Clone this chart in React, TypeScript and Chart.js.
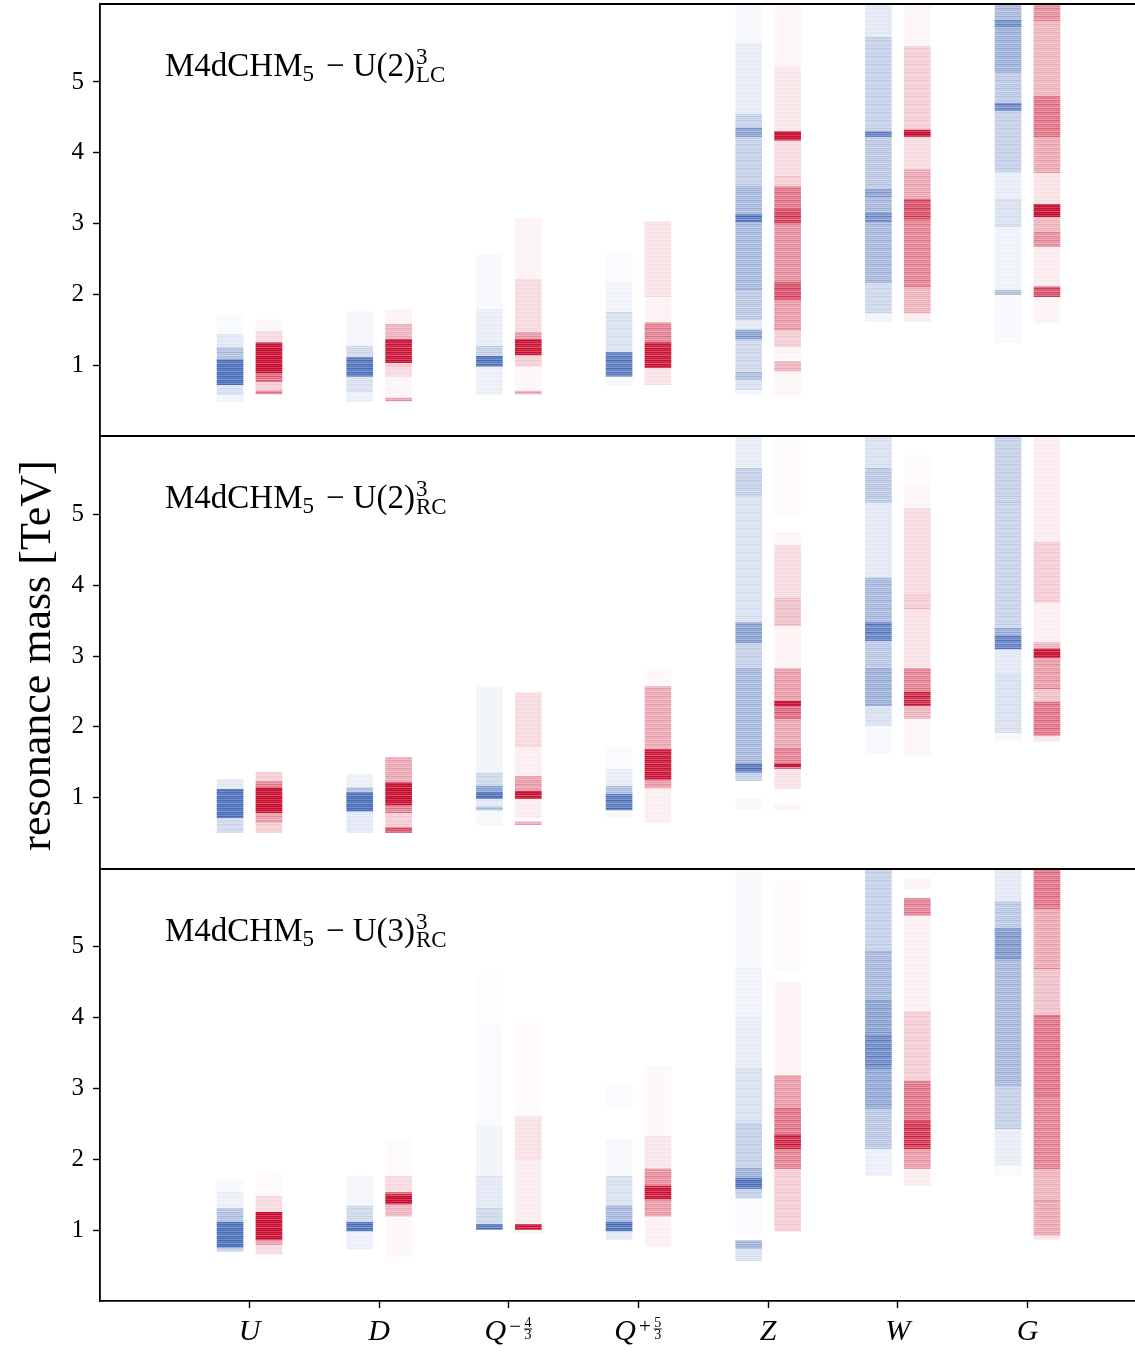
import React, { useEffect, useRef } from 'react';
import { Chart, registerables } from 'chart.js';

Chart.register(...registerables);

// [from TeV, to TeV, density 0..1]
type Band = [number, number, number];

const categories = ['U', 'D', 'Q-4/3', 'Q+5/3', 'Z', 'W', 'G'];
const massTicks = [1, 2, 3, 4, 5];
const massMax = 6.1;

const panelTitles = [
  { group: 'U(2)', sup: '3', sub: 'LC' },
  { group: 'U(2)', sup: '3', sub: 'RC' },
  { group: 'U(3)', sup: '3', sub: 'RC' },
];

// U(2)^3 LC
const lcBlue: Band[][] = [
  [[0.49, 0.59, 0.08], [0.59, 0.73, 0.2], [0.73, 1.08, 0.95], [1.08, 1.25, 0.4], [1.25, 1.44, 0.15], [1.44, 1.72, 0.03]],
  [[0.49, 0.63, 0.1], [0.63, 0.85, 0.2], [0.85, 1.11, 0.9], [1.11, 1.27, 0.25], [1.27, 1.76, 0.06]],
  [[0.59, 0.99, 0.1], [0.99, 1.13, 0.9], [1.13, 1.27, 0.3], [1.27, 1.79, 0.12], [1.79, 2.56, 0.04]],
  [[0.72, 0.85, 0.05], [0.85, 1.18, 0.85], [1.18, 1.75, 0.2], [1.75, 2.17, 0.08], [2.17, 2.59, 0.03]],
  [[0.58, 0.66, 0.05], [0.66, 0.8, 0.2], [0.8, 0.9, 0.4], [0.9, 1.37, 0.25], [1.37, 1.5, 0.6], [1.5, 1.65, 0.15], [1.65, 2.07, 0.35], [2.07, 3.03, 0.45], [3.03, 3.13, 0.85], [3.13, 3.52, 0.45], [3.52, 4.23, 0.3], [4.23, 4.35, 0.6], [4.35, 4.54, 0.3], [4.54, 5.55, 0.12], [5.55, 6.1, 0.05]],
  [[1.62, 1.74, 0.08], [1.74, 2.17, 0.25], [2.17, 3.03, 0.45], [3.03, 3.15, 0.7], [3.15, 3.38, 0.45], [3.38, 3.48, 0.6], [3.48, 4.23, 0.35], [4.23, 4.3, 0.8], [4.3, 5.63, 0.3], [5.63, 6.1, 0.15]],
  [[1.32, 2.0, 0.04], [2.0, 2.06, 0.4], [2.06, 2.96, 0.08], [2.96, 3.34, 0.2], [3.34, 3.73, 0.12], [3.73, 4.6, 0.3], [4.6, 4.7, 0.75], [4.7, 5.14, 0.35], [5.14, 5.78, 0.5], [5.78, 5.87, 0.7], [5.87, 6.1, 0.45]],
];
const lcRed: Band[][] = [
  [[0.6, 0.64, 0.5], [0.64, 0.77, 0.2], [0.77, 0.9, 0.6], [0.9, 1.32, 1.0], [1.32, 1.48, 0.15], [1.48, 1.65, 0.03]],
  [[0.5, 0.54, 0.4], [0.55, 0.85, 0.04], [0.85, 0.99, 0.15], [0.99, 1.04, 0.2], [1.04, 1.37, 0.95], [1.37, 1.58, 0.3], [1.58, 1.79, 0.05]],
  [[0.6, 0.64, 0.35], [0.66, 0.99, 0.03], [0.99, 1.15, 0.2], [1.15, 1.37, 0.95], [1.37, 1.46, 0.4], [1.46, 2.21, 0.15], [2.21, 3.08, 0.05]],
  [[0.73, 0.97, 0.12], [0.97, 1.32, 0.95], [1.32, 1.6, 0.5], [1.6, 1.97, 0.05], [1.97, 3.03, 0.12]],
  [[0.58, 0.92, 0.04], [0.92, 1.06, 0.3], [1.1, 1.27, 0.04], [1.27, 1.5, 0.2], [1.5, 1.93, 0.4], [1.93, 2.17, 0.7], [2.17, 3.01, 0.45], [3.01, 3.2, 0.75], [3.2, 3.52, 0.55], [3.52, 3.66, 0.2], [3.66, 4.18, 0.15], [4.18, 4.3, 1.0], [4.3, 5.21, 0.1], [5.21, 6.1, 0.04]],
  [[1.62, 1.74, 0.08], [1.74, 2.11, 0.3], [2.11, 3.06, 0.5], [3.06, 3.34, 0.7], [3.34, 3.76, 0.35], [3.76, 4.23, 0.15], [4.23, 4.32, 1.0], [4.32, 5.5, 0.2], [5.5, 6.1, 0.04]],
  [[1.6, 1.97, 0.05], [1.97, 2.11, 0.7], [2.11, 2.68, 0.08], [2.68, 2.87, 0.45], [2.87, 3.1, 0.3], [3.1, 3.27, 1.0], [3.27, 3.72, 0.12], [3.72, 4.23, 0.35], [4.23, 4.79, 0.55], [4.79, 5.87, 0.3], [5.87, 6.1, 0.45]],
];

// U(2)^3 RC
const rcBlue: Band[][] = [
  [[0.51, 0.72, 0.25], [0.72, 1.12, 0.95], [1.12, 1.26, 0.15]],
  [[0.51, 0.81, 0.15], [0.81, 1.07, 0.95], [1.07, 1.14, 0.4], [1.14, 1.33, 0.1]],
  [[0.62, 0.83, 0.05], [0.83, 0.87, 0.4], [0.87, 0.99, 0.15], [0.99, 1.07, 0.95], [1.07, 1.16, 0.6], [1.16, 1.35, 0.25], [1.35, 2.57, 0.07]],
  [[0.72, 0.83, 0.04], [0.83, 1.05, 0.85], [1.05, 1.16, 0.4], [1.16, 1.4, 0.12], [1.4, 1.72, 0.03]],
  [[0.82, 1.0, 0.04], [1.24, 1.36, 0.3], [1.36, 1.48, 0.85], [1.48, 2.82, 0.45], [2.82, 3.19, 0.3], [3.19, 3.47, 0.6], [3.47, 5.27, 0.2], [5.27, 5.65, 0.3], [5.65, 6.1, 0.12]],
  [[1.64, 2.02, 0.05], [2.02, 2.3, 0.2], [2.3, 2.82, 0.5], [2.82, 3.22, 0.35], [3.22, 3.47, 0.8], [3.47, 4.1, 0.45], [4.1, 5.17, 0.15], [5.17, 5.65, 0.35], [5.65, 6.1, 0.2]],
  [[1.8, 1.92, 0.05], [1.92, 2.73, 0.2], [2.73, 3.1, 0.15], [3.1, 3.29, 0.8], [3.29, 3.39, 0.5], [3.39, 5.17, 0.28], [5.17, 6.1, 0.3]],
];
const rcRed: Band[][] = [
  [[0.51, 0.66, 0.2], [0.66, 0.79, 0.4], [0.79, 1.14, 1.0], [1.14, 1.23, 0.5], [1.23, 1.36, 0.2]],
  [[0.51, 0.58, 0.7], [0.58, 0.79, 0.2], [0.79, 0.9, 0.5], [0.9, 1.21, 1.0], [1.21, 1.57, 0.35]],
  [[0.62, 0.66, 0.35], [0.72, 0.99, 0.08], [0.99, 1.09, 1.0], [1.09, 1.3, 0.4], [1.3, 1.72, 0.07], [1.72, 2.48, 0.15]],
  [[0.65, 1.14, 0.07], [1.14, 1.26, 0.4], [1.26, 1.68, 0.95], [1.68, 2.57, 0.35], [2.57, 2.81, 0.03]],
  [[0.83, 0.9, 0.05], [1.13, 1.41, 0.12], [1.41, 1.44, 0.5], [1.44, 1.48, 1.0], [1.48, 1.69, 0.5], [1.69, 2.12, 0.35], [2.12, 2.3, 0.6], [2.3, 2.36, 1.0], [2.36, 2.82, 0.4], [2.82, 3.43, 0.05], [3.43, 3.81, 0.25], [3.81, 4.56, 0.15], [4.56, 4.75, 0.04], [4.99, 6.1, 0.02]],
  [[1.6, 2.12, 0.04], [2.12, 2.3, 0.3], [2.3, 2.49, 0.85], [2.49, 2.82, 0.5], [2.82, 3.67, 0.12], [3.67, 3.86, 0.2], [3.86, 5.08, 0.15], [5.08, 5.41, 0.04], [5.41, 5.83, 0.02]],
  [[1.8, 1.88, 0.1], [1.88, 2.35, 0.55], [2.35, 2.54, 0.25], [2.54, 2.98, 0.4], [2.98, 3.1, 1.0], [3.1, 3.19, 0.3], [3.19, 3.76, 0.07], [3.76, 4.6, 0.2], [4.6, 6.1, 0.08]],
];

// U(3)^3 RC
const u3Blue: Band[][] = [
  [[0.7, 0.76, 0.3], [0.76, 1.11, 0.95], [1.11, 1.3, 0.4], [1.3, 1.53, 0.1], [1.53, 1.72, 0.04]],
  [[0.73, 0.99, 0.1], [0.99, 1.11, 0.9], [1.11, 1.34, 0.25], [1.34, 1.76, 0.06]],
  [[1.01, 1.08, 0.9], [1.08, 1.3, 0.25], [1.3, 1.76, 0.15], [1.76, 2.46, 0.07], [2.46, 3.87, 0.03], [3.87, 4.6, 0.015]],
  [[0.87, 0.99, 0.15], [0.99, 1.11, 0.9], [1.11, 1.34, 0.45], [1.34, 1.76, 0.2], [1.76, 2.28, 0.05], [2.75, 3.03, 0.03]],
  [[0.57, 0.75, 0.2], [0.75, 0.85, 0.5], [0.93, 1.41, 0.03], [1.45, 1.59, 0.3], [1.59, 1.73, 0.9], [1.73, 1.87, 0.5], [1.87, 2.5, 0.3], [2.5, 3.28, 0.2], [3.28, 4.0, 0.12], [4.0, 4.69, 0.08], [4.69, 6.1, 0.04]],
  [[1.77, 2.15, 0.1], [2.15, 2.72, 0.35], [2.72, 3.28, 0.55], [3.28, 3.75, 0.75], [3.75, 4.23, 0.6], [4.23, 4.93, 0.45], [4.93, 6.1, 0.3]],
  [[1.77, 1.92, 0.03], [1.92, 2.43, 0.12], [2.43, 3.04, 0.3], [3.04, 4.83, 0.45], [4.83, 5.25, 0.65], [5.25, 5.63, 0.35], [5.63, 6.1, 0.15]],
];
const u3Red: Band[][] = [
  [[0.66, 0.8, 0.15], [0.8, 0.87, 0.4], [0.87, 1.25, 1.0], [1.25, 1.48, 0.15], [1.48, 1.82, 0.02]],
  [[0.63, 1.2, 0.03], [1.2, 1.37, 0.3], [1.37, 1.5, 1.0], [1.5, 1.53, 0.6], [1.53, 1.76, 0.15], [1.76, 2.28, 0.02]],
  [[0.96, 1.01, 0.05], [1.01, 1.08, 1.0], [1.08, 2.0, 0.08], [2.0, 2.6, 0.12], [2.6, 3.93, 0.02]],
  [[0.77, 1.2, 0.06], [1.2, 1.44, 0.4], [1.44, 1.62, 0.95], [1.62, 1.86, 0.45], [1.86, 2.32, 0.1], [2.32, 3.31, 0.03]],
  [[0.99, 1.87, 0.2], [1.87, 2.15, 0.5], [2.15, 2.34, 0.85], [2.34, 2.72, 0.55], [2.72, 3.18, 0.4], [3.18, 4.5, 0.05], [4.65, 5.92, 0.02]],
  [[1.63, 1.87, 0.08], [1.87, 2.15, 0.4], [2.15, 2.54, 0.8], [2.54, 3.1, 0.55], [3.1, 4.08, 0.2], [4.08, 5.44, 0.06], [5.44, 5.68, 0.5], [5.82, 5.96, 0.05]],
  [[0.87, 0.93, 0.1], [0.93, 1.41, 0.35], [1.41, 1.87, 0.3], [1.87, 2.9, 0.5], [2.9, 4.03, 0.55], [4.03, 4.69, 0.25], [4.69, 5.54, 0.35], [5.54, 6.1, 0.55]],
];

// top to bottom
const panels = [
  { id: 'yLC', blue: lcBlue, red: lcRed },
  { id: 'yRC', blue: rcBlue, red: rcRed },
  { id: 'yU3', blue: u3Blue, red: u3Red },
];

const FONT = '"Liberation Serif", "Times New Roman", serif';
const BLUE = [68, 105, 181];
const RED = [200, 14, 48];
// horizontal hairline texture inside each strip
const STRIPE = [1.2, 0.85, 1.0, 0.7, 1.1, 0.9, 1.0, 0.8];
const fillCache = new Map<string, CanvasPattern | string>();

function stripeFill(rgb: number[], a: number): CanvasPattern | string {
  const key = rgb.join(',') + ':' + a;
  const hit = fillCache.get(key);
  if (hit) return hit;
  const c = document.createElement('canvas');
  c.width = 4;
  c.height = STRIPE.length;
  const g = c.getContext('2d')!;
  STRIPE.forEach((m, k) => {
    g.fillStyle = `rgba(${rgb.join(',')},${Math.min(1, a * m)})`;
    g.fillRect(0, k, 4, 1);
  });
  const pat = g.createPattern(c, 'repeat') || `rgba(${rgb.join(',')},${a})`;
  fillCache.set(key, pat);
  return pat;
}

function stripData(strips: Band[][], shift: number) {
  return strips.flatMap((bands, i) => bands.map(([lo, hi, d]) => ({ x: i + shift, y: [lo, hi], d })));
}

type Part = { t: string; size: number; dy?: number; italic?: boolean; gap?: number };

function drawParts(ctx: CanvasRenderingContext2D, parts: Part[], x: number, y: number, align: 'left' | 'center') {
  const widths = parts.map((p) => {
    ctx.font = `${p.italic ? 'italic ' : ''}${p.size}px ${FONT}`;
    return ctx.measureText(p.t).width + (p.gap || 0);
  });
  const total = widths.reduce((s, w) => s + w, 0);
  let cx = align === 'center' ? x - total / 2 : x;
  ctx.textAlign = 'left';
  ctx.textBaseline = 'alphabetic';
  parts.forEach((p, k) => {
    ctx.font = `${p.italic ? 'italic ' : ''}${p.size}px ${FONT}`;
    ctx.fillText(p.t, cx, y + (p.dy || 0));
    cx += widths[k];
  });
  return cx;
}

const annotations = {
  id: 'annotations',
  afterDraw(chart: Chart) {
    const ctx = chart.ctx;
    const area = chart.chartArea;
    ctx.save();
    ctx.fillStyle = '#000';
    ctx.strokeStyle = '#000';

    // panel frames
    ctx.lineWidth = 1.8;
    panels.forEach((p) => {
      const s = chart.scales[p.id];
      ctx.beginPath();
      ctx.moveTo(area.left, Math.round(s.top));
      ctx.lineTo(chart.width, Math.round(s.top));
      ctx.stroke();
    });

    // panel titles
    panels.forEach((p, k) => {
      const s = chart.scales[p.id];
      const base = s.top + 72;
      const title = panelTitles[k];
      const cx = drawParts(ctx, [
        { t: 'M4dCHM', size: 33 },
        { t: '5', size: 23, dy: 5, gap: 12 },
        { t: '\u2212', size: 33, gap: 8 },
        { t: title.group, size: 33 },
      ], 165, base, 'left');
      ctx.font = `23px ${FONT}`;
      ctx.fillText(title.sup, cx + 1, base - 12);
      ctx.fillText(title.sub, cx + 1, base + 6);
    });

    // category labels
    const xs = chart.scales.x;
    const lblBase = 1340;
    categories.forEach((c, i) => {
      const px = xs.getPixelForValue(i);
      if (c.length === 1) {
        drawParts(ctx, [{ t: c, size: 30, italic: true }], px, lblBase, 'center');
      } else {
        const sign = c[1] === '-' ? '\u2212' : '+';
        const num = c[2];
        const den = c[4];
        ctx.font = `italic 30px ${FONT}`;
        const qW = ctx.measureText('Q').width + 3;
        ctx.font = `21px ${FONT}`;
        const sW = ctx.measureText(sign).width + 2;
        ctx.font = `14px ${FONT}`;
        const fW = Math.max(ctx.measureText(num).width, ctx.measureText(den).width) + 3;
        let cx = px - (qW + sW + fW) / 2;
        ctx.textAlign = 'left';
        ctx.font = `italic 30px ${FONT}`;
        ctx.fillText('Q', cx, lblBase);
        cx += qW;
        ctx.font = `21px ${FONT}`;
        ctx.fillText(sign, cx, lblBase - 7);
        cx += sW;
        ctx.font = `14px ${FONT}`;
        ctx.textAlign = 'center';
        ctx.fillText(num, cx + fW / 2, lblBase - 13);
        ctx.fillText(den, cx + fW / 2, lblBase - 1);
        ctx.lineWidth = 0.9;
        ctx.beginPath();
        ctx.moveTo(cx + 1, lblBase - 11);
        ctx.lineTo(cx + fW - 1, lblBase - 11);
        ctx.stroke();
      }
    });

    // shared axis title
    ctx.translate(50, (chart.scales.yLC.top + chart.scales.yU3.bottom) / 2 + 3);
    ctx.rotate(-Math.PI / 2);
    ctx.textAlign = 'center';
    ctx.textBaseline = 'alphabetic';
    ctx.font = `44px ${FONT}`;
    ctx.fillText('resonance mass [TeV]', 0, 0);
    ctx.restore();
  },
};

function massAxis() {
  return {
    type: 'linear' as const,
    position: 'left' as const,
    stack: 'panels',
    stackWeight: 1,
    min: 0,
    max: massMax,
    afterBuildTicks: (s: any) => {
      s.ticks = massTicks.map((v) => ({ value: v }));
    },
    afterFit: (s: any) => {
      s.width = 100;
      s.paddingTop = 0;
      s.paddingBottom = 0;
    },
    ticks: { color: '#000', padding: 9, font: { family: FONT, size: 25 }, callback: (v: any) => String(v) },
    grid: { drawOnChartArea: false, drawTicks: true, tickLength: 7, tickWidth: 1.4, tickColor: '#000' },
    border: { display: true, color: '#000', width: 1.8 },
  };
}

export default function App() {
  const ref = useRef<HTMLCanvasElement | null>(null);

  useEffect(() => {
    if (!ref.current) return;
    const datasets: any[] = [];
    panels.forEach((p) => {
      datasets.push({
        data: stripData(p.blue, -0.15),
        yAxisID: p.id,
        backgroundColor: (c: any) => (c.raw ? stripeFill(BLUE, c.raw.d) : 'transparent'),
      });
      datasets.push({
        data: stripData(p.red, 0.15),
        yAxisID: p.id,
        backgroundColor: (c: any) => (c.raw ? stripeFill(RED, c.raw.d) : 'transparent'),
      });
    });

    // stacked left axes are laid out last-defined first, so list them bottom-up
    const scales: any = {
      x: {
        type: 'linear',
        min: -1.153,
        max: 6.829,
        offset: false,
        afterBuildTicks: (s: any) => {
          s.ticks = categories.map((_, i) => ({ value: i }));
        },
        afterFit: (s: any) => {
          s.height = 57;
          s.paddingLeft = 0;
          s.paddingRight = 0;
        },
        ticks: { display: false },
        grid: { drawOnChartArea: false, drawTicks: true, tickLength: 7, tickWidth: 1.4, tickColor: '#000', offset: false },
        border: { display: true, color: '#000', width: 1.8 },
      },
    };
    [...panels].reverse().forEach((p) => {
      scales[p.id] = massAxis();
    });

    const chart = new Chart(ref.current, {
      type: 'bar',
      data: { datasets },
      options: {
        responsive: false,
        animation: false,
        layout: { autoPadding: false, padding: { top: 4, left: 0, right: 0, bottom: 0 } },
        datasets: { bar: { grouped: false, barThickness: 26, borderWidth: 0 } },
        plugins: { legend: { display: false }, tooltip: { enabled: false } },
        events: [],
        scales,
      } as any,
      plugins: [annotations],
    });
    return () => chart.destroy();
  }, []);

  return (
    <div style={{ position: 'absolute', left: 0, top: 0, width: 1135, height: 1358, background: '#fff' }}>
      <canvas ref={ref} width={1135} height={1358} style={{ display: 'block', width: 1135, height: 1358 }} />
    </div>
  );
}
